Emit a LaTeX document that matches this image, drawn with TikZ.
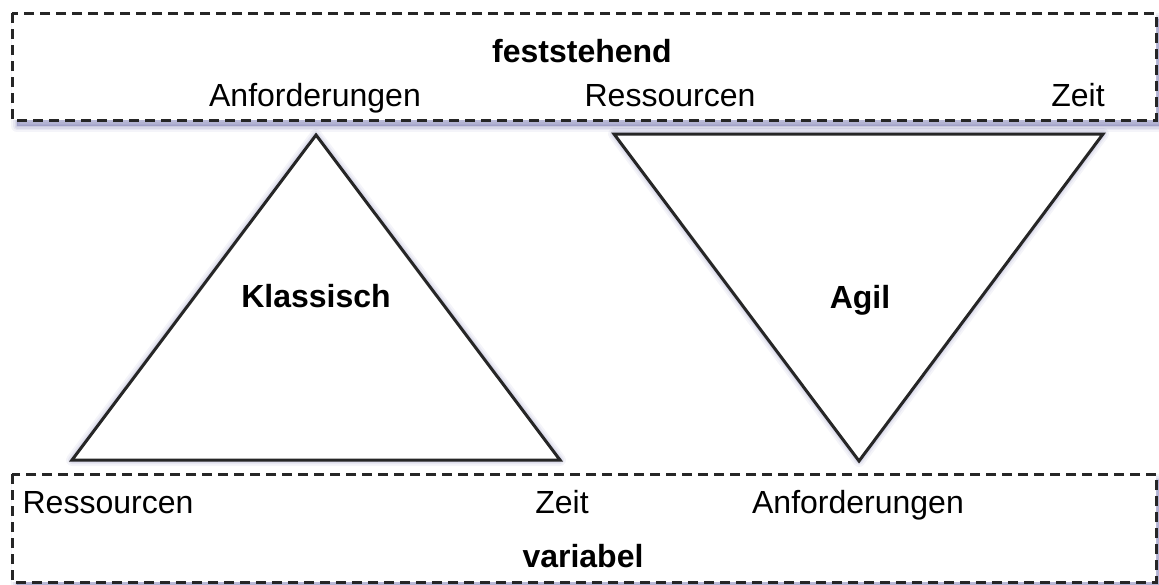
\documentclass[tikz,border=0pt]{standalone}
\usepackage{fontspec}
\setmainfont{Liberation Sans}
\definecolor{shadowc}{RGB}{100,100,165}
% soft drop shadow of a closed path, offset to the lower right
\newcommand\softshadow[1]{%
  \foreach \w/\o in {12/0.07,8/0.09,5/0.11,2/0.13}{%
    \draw[shadowc, line width=\w pt, opacity=\o, line join=round, shift={(5,6)}] #1;}%
  \fill[shadowc, opacity=0.4, shift={(5,6)}] #1;%
}
\begin{document}
\begin{tikzpicture}[x=1pt,y=-1pt,
  frame/.style={draw=black!85, line width=3pt, dash pattern=on 10pt off 6pt, fill=white},
  tri/.style={draw=black!85, line width=3pt, line join=miter, fill=white},
  lbl/.style={font=\fontsize{32}{38}\selectfont, anchor=base, inner sep=0pt},
  ttl/.style={font=\fontsize{32}{38}\selectfont\bfseries, anchor=base, inner sep=0pt}]
\useasboundingbox (0,0) rectangle (1159,584);

% triangle corners
\coordinate (kA) at (316,135);
\coordinate (kB) at (72,460);
\coordinate (kC) at (560,460);
\coordinate (aA) at (614,134);
\coordinate (aB) at (1103,134);
\coordinate (aC) at (859,461);

% shadows
\softshadow{(12,13) rectangle (1156,120)}
\softshadow{(12,474) rectangle (1156,582)}
\softshadow{(kA) -- (kB) -- (kC) -- cycle}
\softshadow{(aA) -- (aB) -- (aC) -- cycle}

% frames for fixed and variable quantities
\draw[frame] (12,13) rectangle (1156,120);
\draw[frame] (12,474) rectangle (1156,582);

% triangles
\draw[tri] (kA) -- (kB) -- (kC) -- cycle;
\draw[tri] (aA) -- (aB) -- (aC) -- cycle;

% top frame
\node[ttl] (fest) at (582,62) {feststehend};
\node[lbl] (tAnf) at (315,106) {Anforderungen};
\node[lbl] (tRes) at (670,106) {Ressourcen};
\node[lbl] (tZeit) at (1078,106) {Zeit};

% triangle labels
\node[ttl] (klass) at (316,307) {Klassisch};
\node[ttl] (agil) at (860,308) {Agil};

% bottom frame
\node[lbl] (bRes) at (108,513) {Ressourcen};
\node[lbl] (bZeit) at (562,513) {Zeit};
\node[lbl] (bAnf) at (858,513) {Anforderungen};
\node[ttl] (var) at (583,567) {variabel};
\end{tikzpicture}
\end{document}
